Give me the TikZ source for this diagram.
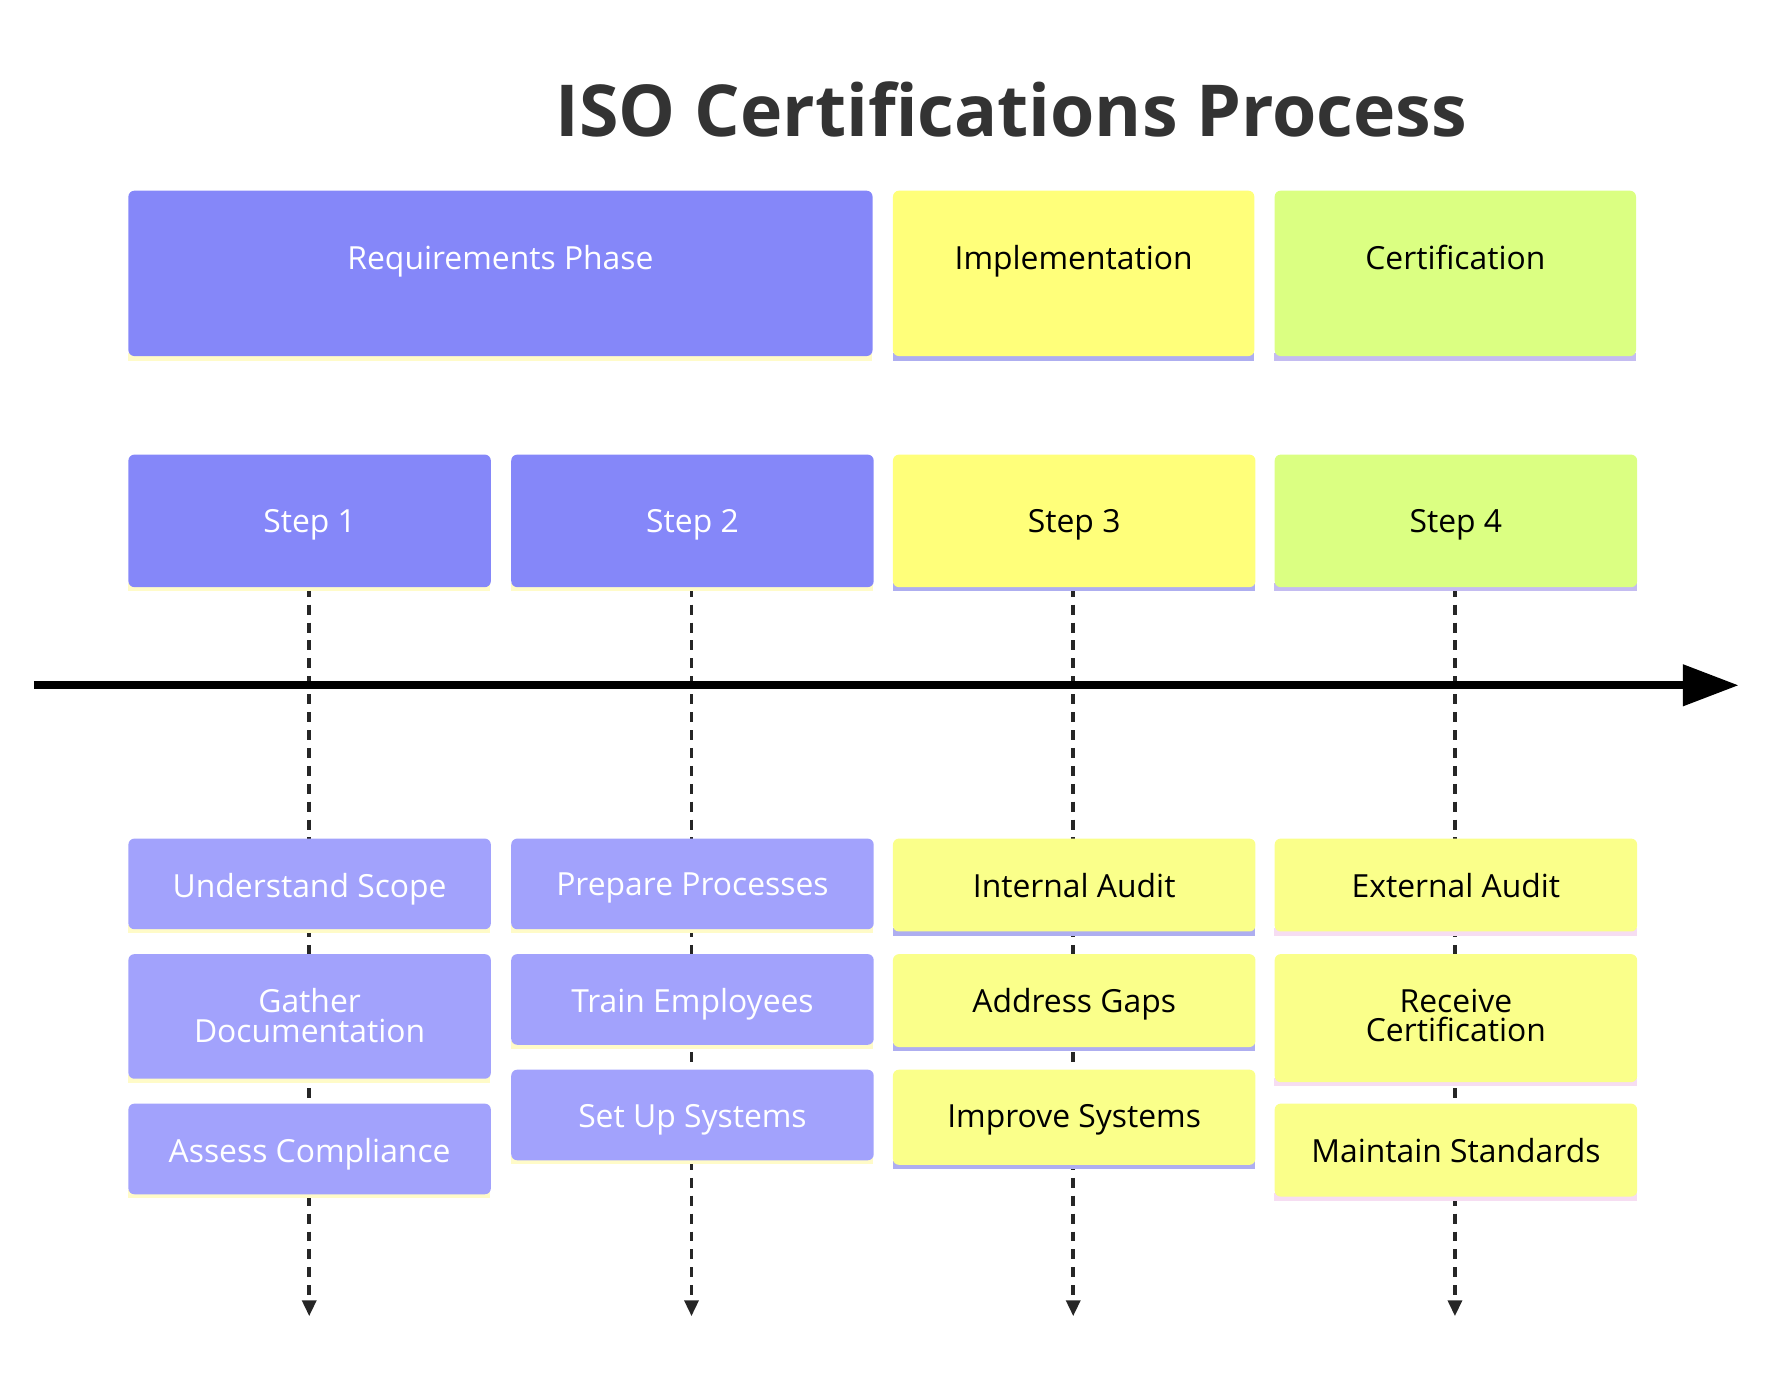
\documentclass[tikz,border=0pt]{standalone}
\usepackage{fontspec}
\setmainfont{Open Sans}
\usetikzlibrary{arrows.meta, positioning}
\definecolor{phaseblue}{HTML}{8587F9}
\definecolor{taskblue}{HTML}{A2A2FC}
\definecolor{phaseyellow}{HTML}{FFFF7A}
\definecolor{taskyellow}{HTML}{FAFF8A}
\definecolor{phasegreen}{HTML}{DBFF82}
\definecolor{stripyellow}{HTML}{FFFBC8}
\definecolor{striplav}{HTML}{AEAEF0}
\definecolor{strippink}{HTML}{F6DDF2}
\tikzset{
  box/.style={rectangle, rounded corners=3pt, inner sep=0pt, anchor=north west},
  boxtext/.style={font=\fontsize{16}{16}\selectfont, align=center, anchor=north},
  dashline/.style={line width=1.8pt, dash pattern=on 5pt off 4pt, -{Triangle[length=8pt,width=7pt]}}
}
\begin{document}
\begin{tikzpicture}[x=0.02cm, y=-0.02cm]
        \useasboundingbox (0,0) rectangle (1560,1225);
        \node[font=\fontsize{36}{36}\selectfont\bfseries, text=black!80] (title) at (893,97) {ISO Certifications Process};
        % column centres
        \foreach \cx/\nm in {273/a, 610.5/b, 947.5/c, 1284.5/d}{
          \coordinate (top\nm) at (\cx,518);
          \coordinate (end\nm) at (\cx,1162);
          \draw[dashline, black!85] (top\nm) -- (end\nm);
        }
        \coordinate (tl) at (30,605);
        \coordinate (tr) at (1535,605);
        \draw[line width=4pt, -{Triangle[length=28pt,width=20pt]}] (tl) -- (tr);
        % phases
        \foreach \x/\w/\fc/\sc/\tc/\txt/\nm in {
            113/657/phaseblue/stripyellow/white/Requirements Phase/req,
            788/319/phaseyellow/striplav/black/Implementation/impl,
            1125/319/phasegreen/striplav!70!strippink/black/Certification/cert}{
          \fill[\sc] (\x,312) rectangle ++(\w,7);
          \node[box, fill=\fc, minimum width=\w*0.02cm, minimum height=146*0.02cm] (\nm) at (\x,168) {};
          \node[boxtext, text=\tc] at ([yshift=-24pt]\nm.north) {\txt};
        }
        % steps
        \foreach \x/\fc/\sc/\tc/\n in {
            113/phaseblue/stripyellow/white/1, 451/phaseblue/stripyellow/white/2,
            788/phaseyellow/striplav/black/3, 1125/phasegreen/striplav!70!strippink/black/4}{
          \fill[\sc] (\x,515) rectangle ++(320,7);
          \node[box, fill=\fc, minimum width=320*0.02cm, minimum height=117*0.02cm] (step\n) at (\x,401) {};
          \node[boxtext, text=\tc] at ([yshift=-24pt]step\n.north) {Step \n};
        }
        % tasks
        \foreach \x/\y/\h/\fc/\sc/\tc/\txt/\nm in {
            113/740/80/taskblue/stripyellow/white/Understand Scope/t11,
            113/842/110/taskblue/stripyellow/white/Gather\\Documentation/t12,
            113/974/80/taskblue/stripyellow/white/Assess Compliance/t13,
            451/740/80/taskblue/stripyellow/white/Prepare Processes/t21,
            451/842/80/taskblue/stripyellow/white/Train Employees/t22,
            451/944/80/taskblue/stripyellow/white/Set Up Systems/t23,
            788/740/82/taskyellow/striplav/black/Internal Audit/t31,
            788/842/82/taskyellow/striplav/black/Address Gaps/t32,
            788/944/84/taskyellow/striplav/black/Improve Systems/t33,
            1125/740/82/taskyellow/strippink/black/External Audit/t41,
            1125/842/113/taskyellow/strippink/black/Receive\\Certification/t42,
            1125/974/82/taskyellow/strippink/black/Maintain Standards/t43}{
          \fill[\sc] (\x,\y+\h-3) rectangle ++(320,7);
          \node[box, fill=\fc, minimum width=320*0.02cm, minimum height=\h*0.02cm] (\nm) at (\x,\y) {};
          \node[boxtext, text=\tc, font=\fontsize{16}{15}\selectfont] at ([yshift=-14pt]\nm.north) {\txt};
        }
\end{tikzpicture}
\end{document}
